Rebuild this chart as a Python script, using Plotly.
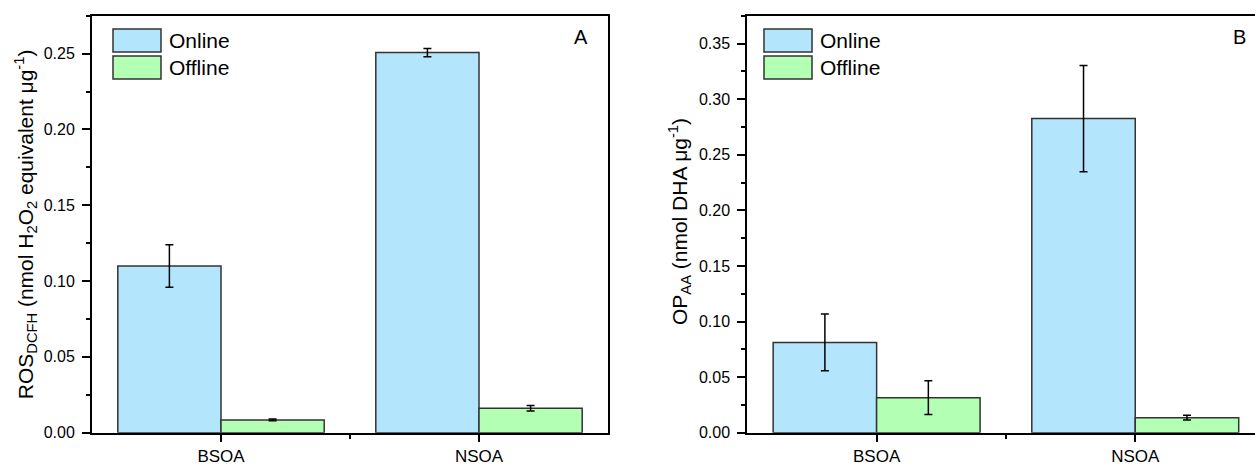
import plotly.graph_objects as go

# ---------------- data ----------------
categories = ["BSOA", "NSOA"]
cat_pos = [1, 2]
series_names = ["Online", "Offline"]

ros_online = [0.110, 0.2507]
ros_online_err = [0.014, 0.0027]
ros_offline = [0.0084, 0.0161]
ros_offline_err = [0.0006, 0.0018]

op_online = [0.0812, 0.2825]
op_online_err = [0.0255, 0.0478]
op_offline = [0.0315, 0.0135]
op_offline_err = [0.0152, 0.0021]

yticks_a = [0.00, 0.05, 0.10, 0.15, 0.20, 0.25]
yticks_b = [0.00, 0.05, 0.10, 0.15, 0.20, 0.25, 0.30, 0.35]

# ---------------- style ----------------
W, H = 1255, 465
FONT = "Liberation Sans, Arial, sans-serif"
C_ON = "#B3E5FC"
C_OFF = "#B3FFB3"
EDGE = "#333333"


def px(x):
    return x / W


def py(y):
    return 1 - y / H


fig = go.Figure()


def add_bars(xa, ya, on, on_err, off, off_err):
    for name, vals, errs, col in [
        (series_names[0], on, on_err, C_ON),
        (series_names[1], off, off_err, C_OFF),
    ]:
        fig.add_trace(go.Bar(
            x=cat_pos, y=vals, name=name, xaxis=xa, yaxis=ya,
            marker=dict(color=col, line=dict(color=EDGE, width=1.5)),
            error_y=dict(type="data", array=errs, visible=True,
                         color="black", thickness=1.5, width=4),
            showlegend=False,
        ))


add_bars("x", "y", ros_online, ros_online_err, ros_offline, ros_offline_err)
add_bars("x2", "y2", op_online, op_online_err, op_offline, op_offline_err)

y_top, y_bot = 15.7, 432.7

common_x = dict(
    tickmode="array", tickvals=cat_pos, ticktext=categories,
    ticks="outside", ticklen=7, tickwidth=1.5, tickcolor="black",
    showline=True, linecolor="black", linewidth=2,
    showgrid=False, zeroline=False,
    tickfont=dict(family=FONT, size=17, color="black"),
    minor=dict(tickvals=[1.5], ticks="outside", ticklen=4, tickwidth=1.5, tickcolor="black"),
    automargin=False,
)
common_y = dict(
    ticks="outside", ticklen=8, tickwidth=1.5, tickcolor="black",
    showline=True, linecolor="black", linewidth=2,
    showgrid=False, zeroline=False, tickformat=".2f",
    tickfont=dict(family=FONT, size=16, color="black"),
    automargin=False, ticklabelstandoff=4,
)

fig.update_layout(
    width=W, height=H,
    margin=dict(l=0, r=0, t=0, b=0),
    paper_bgcolor="white", plot_bgcolor="white",
    barmode="group", bargap=0.2, bargroupgap=0,
    showlegend=False,
    xaxis=dict(common_x, domain=[px(92), px(608)], range=[0.5, 2.5], mirror=True, anchor="y"),
    yaxis=dict(common_y, domain=[py(y_bot), py(y_top)], range=[0, 0.275],
               tickvals=yticks_a, mirror=True, anchor="x",
               minor=dict(dtick=0.025, ticks="outside", ticklen=4, tickwidth=1.5, tickcolor="black")),
    xaxis2=dict(common_x, domain=[px(747.3), 1.0], range=[0.5, 2.463], mirror=True, anchor="y2"),
    yaxis2=dict(common_y, domain=[py(y_bot), py(y_top)], range=[0, 0.375],
                tickvals=yticks_b, anchor="x2",
                minor=dict(dtick=0.025, ticks="outside", ticklen=4, tickwidth=1.5, tickcolor="black")),
)

shapes = []
annotations = []

# manual legends (large swatches like the original)
for sw_x0, txt_x in [(113, 167), (764, 818)]:
    for (yy0, yy1), name, col in [((29, 52), series_names[0], C_ON), ((56, 79), series_names[1], C_OFF)]:
        shapes.append(dict(type="rect", xref="paper", yref="paper",
                           x0=px(sw_x0), x1=px(sw_x0 + 48), y0=py(yy1), y1=py(yy0),
                           fillcolor=col, line=dict(color=EDGE, width=1.5)))
        annotations.append(dict(text=name, xref="paper", yref="paper",
                                x=px(txt_x), y=py((yy0 + yy1) / 2), xanchor="left", yanchor="middle",
                                showarrow=False, font=dict(family=FONT, size=21, color="black")))

# panel letters
annotations.append(dict(text="A", xref="paper", yref="paper", x=px(581), y=py(37),
                        xanchor="center", yanchor="middle", showarrow=False,
                        font=dict(family=FONT, size=20, color="black")))
annotations.append(dict(text="B", xref="paper", yref="paper", x=px(1239), y=py(37),
                        xanchor="center", yanchor="middle", showarrow=False,
                        font=dict(family=FONT, size=20, color="black")))

# axis titles
annotations.append(dict(
    text="ROS<sub>DCFH</sub> (nmol H<sub>2</sub>O<sub>2</sub> equivalent \u03bcg<sup>-1</sup>)",
    xref="paper", yref="paper", x=px(25), y=py((y_top + y_bot) / 2),
    xanchor="center", yanchor="middle", textangle=-90, showarrow=False,
    font=dict(family=FONT, size=21, color="black")))
annotations.append(dict(
    text="OP<sub>AA</sub> (nmol DHA \u03bcg<sup>-1</sup>)",
    xref="paper", yref="paper", x=px(679), y=py(222),
    xanchor="center", yanchor="middle", textangle=-90, showarrow=False,
    font=dict(family=FONT, size=21, color="black")))

fig.update_layout(shapes=shapes, annotations=annotations)

fig.write_html("out.html")
